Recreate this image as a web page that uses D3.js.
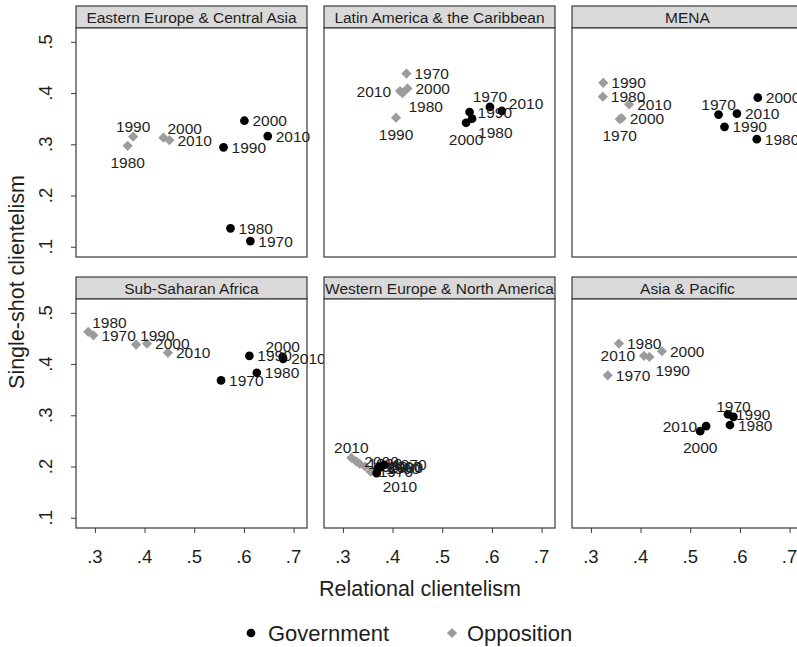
<!DOCTYPE html>
<html>
<head>
<meta charset="utf-8">
<script src="https://cdn.jsdelivr.net/npm/d3@7/dist/d3.min.js"></script>
<style>
  html, body { margin: 0; padding: 0; background: #fff; }
  svg { display: block; font-family: "Liberation Sans", Arial, sans-serif; }
</style>
</head>
<body>
<svg id="chart" width="797" height="647"></svg>
<script>
// ---------------- DATA ----------------
const regions = [
  "Eastern Europe & Central Asia",
  "Latin America & the Caribbean",
  "MENA",
  "Sub-Saharan Africa",
  "Western Europe & North America",
  "Asia & Pacific"
];
const years = [1970, 1980, 1990, 2000, 2010];

// Government: relational (x) and single-shot (y), per region, per year
const govRelational = [
  [0.613, 0.573, 0.559, 0.601, 0.648],
  [0.596, 0.560, 0.555, 0.548, 0.620],
  [0.557, 0.634, 0.569, 0.636, 0.594],
  [0.554, 0.626, 0.611, 0.678, 0.679],
  [0.383, 0.376, 0.370, 0.374, 0.368],
  [0.587, 0.580, 0.576, 0.520, 0.532]
];
const govSingleShot = [
  [0.111, 0.136, 0.294, 0.346, 0.316],
  [0.373, 0.350, 0.363, 0.342, 0.365],
  [0.358, 0.310, 0.334, 0.391, 0.360],
  [0.368, 0.383, 0.416, 0.414, 0.410],
  [0.203, 0.199, 0.196, 0.200, 0.187],
  [0.297, 0.281, 0.302, 0.269, 0.279]
];
// Opposition
const oppRelational = [
  [null, 0.366, 0.377, 0.438, 0.450],
  [0.428, 0.420, 0.407, 0.430, 0.415],
  [0.358, 0.324, 0.325, 0.362, 0.377],
  [0.297, 0.2865, 0.383, 0.405, 0.447],
  [0.356, 0.345, 0.334, 0.327, 0.317],
  [0.334, 0.3565, 0.418, 0.443, 0.407]
];
const oppSingleShot = [
  [null, 0.297, 0.315, 0.313, 0.308],
  [0.438, 0.400, 0.352, 0.409, 0.404],
  [0.349, 0.393, 0.420, 0.351, 0.378],
  [0.456, 0.463, 0.438, 0.440, 0.422],
  [0.190, 0.200, 0.205, 0.210, 0.217],
  [0.378, 0.440, 0.414, 0.425, 0.416]
];
// Marker-label clock positions (as in the original plot)
const govLabelClock = [
  [3, 3, 3, 3, 3],
  [12, 4, 3, 6, 2],
  [12, 3, 3, 3, 3],
  [3, 3, 3, 12, 3],
  [3, 3, 3, 3, 4],
  [12, 3, 3, 6, 9]
];
const oppLabelClock = [
  [3, 6, 12, 1, 3],
  [3, 4, 6, 3, 9],
  [6, 3, 3, 3, 3],
  [3, 1, 1, 3, 3],
  [3, 3, 3, 3, 12],
  [3, 3, 4, 3, 9]
];
const xTicks = [0.3, 0.4, 0.5, 0.6, 0.7];
const yTicks = [0.1, 0.2, 0.3, 0.4, 0.5];
const xTitle = "Relational clientelism";
const yTitle = "Single-shot clientelism";
const seriesNames = ["Government", "Opposition"];

// ---------------- LAYOUT ----------------
const svg = d3.select("#chart");
const colX = [76, 324, 572];
const rowY = [6, 277];
const panelW = 231, headerH = 22, plotH = 229;
const govColor = "#000000", oppColor = "#9c9c9c";
const headerFill = "#d9d9d9", borderColor = "#3a3a3a", textColor = "#1e1e1e";

const x = d3.scaleLinear().domain([0.262, 0.727]).range([0, panelW]);
const y = d3.scaleLinear().domain([0.080, 0.527]).range([plotH, 0]);

const circleSym = d3.symbol().type(d3.symbolCircle).size(60);
const diamondSym = d3.symbol().type(d3.symbolSquare).size(52);

const fmt = d => String(d).replace(/^0/, "");

function labelAttrs(clock) {
  switch (clock) {
    case 12: return {dx: 0, dy: -5, anchor: "middle"};
    case 1:  return {dx: 4, dy: -4, anchor: "start"};
    case 2:  return {dx: 7, dy: -2, anchor: "start"};
    case 3:  return {dx: 8, dy: 5.5, anchor: "start"};
    case 4:  return {dx: 6, dy: 19, anchor: "start"};
    case 6:  return {dx: 0, dy: 22, anchor: "middle"};
    case 9:  return {dx: -9, dy: 5.5, anchor: "end"};
    default: return {dx: 8, dy: 5.5, anchor: "start"};
  }
}

regions.forEach((name, i) => {
  const col = i % 3, row = Math.floor(i / 3);
  const g = svg.append("g").attr("transform", `translate(${colX[col]},${rowY[row]})`);

  // header
  g.append("rect").attr("x", 0).attr("y", 0).attr("width", panelW).attr("height", headerH)
    .attr("fill", headerFill).attr("stroke", borderColor).attr("stroke-width", 1.2);
  g.append("text").attr("x", panelW / 2).attr("y", headerH / 2 + 5.5)
    .attr("text-anchor", "middle").attr("font-size", 15.5).attr("fill", textColor).text(name);

  const p = g.append("g").attr("transform", `translate(0,${headerH})`);
  p.append("rect").attr("width", panelW).attr("height", plotH)
    .attr("fill", "#fff").attr("stroke", borderColor).attr("stroke-width", 1.2);

  // axes
  if (col === 0) {
    const ya = p.append("g").call(d3.axisLeft(y).tickValues(yTicks).tickSize(5).tickFormat(""));
    ya.select(".domain").remove();
    ya.selectAll("line").attr("stroke", borderColor);
    yTicks.forEach(t => {
      p.append("text")
        .attr("transform", `translate(${-76 + 52},${y(t)}) rotate(-90)`)
        .attr("text-anchor", "middle").attr("font-size", 18.5).attr("fill", textColor)
        .text(fmt(t));
    });
  }
  if (row === 1) {
    const xa = p.append("g").attr("transform", `translate(0,${plotH})`)
      .call(d3.axisBottom(x).tickValues(xTicks).tickSize(5).tickFormat(""));
    xa.select(".domain").remove();
    xa.selectAll("line").attr("stroke", borderColor);
    xTicks.forEach(t => {
      p.append("text").attr("x", x(t)).attr("y", plotH + 35)
        .attr("text-anchor", "middle").attr("font-size", 18.5).attr("fill", textColor)
        .text(fmt(t));
    });
  }

  const marks = p.append("g");
  const series = [
    {xs: oppRelational[i], ys: oppSingleShot[i], clocks: oppLabelClock[i], sym: diamondSym, color: oppColor, rot: 45},
    {xs: govRelational[i], ys: govSingleShot[i], clocks: govLabelClock[i], sym: circleSym, color: govColor, rot: 0}
  ];
  series.forEach(s => {
    const pts = years.map((yr, k) => ({yr, x: s.xs[k], y: s.ys[k], clock: s.clocks[k]}))
      .filter(d => d.x != null && d.y != null);
    marks.selectAll(null).data(pts).enter().append("path")
      .attr("d", s.sym)
      .attr("transform", d => `translate(${x(d.x)},${y(d.y)}) rotate(${s.rot})`)
      .attr("fill", s.color);
    marks.selectAll(null).data(pts).enter().append("text")
      .each(function (d) {
        const a = labelAttrs(d.clock);
        d3.select(this).attr("x", x(d.x) + a.dx).attr("y", y(d.y) + a.dy)
          .attr("text-anchor", a.anchor);
      })
      .attr("font-size", 15.5).attr("fill", textColor)
      .text(d => d.yr);
  });
});

// axis titles
svg.append("text").attr("x", 420).attr("y", 596).attr("text-anchor", "middle")
  .attr("font-size", 21.5).attr("fill", textColor).text(xTitle);
svg.append("text").attr("transform", "translate(24,282) rotate(-90)").attr("text-anchor", "middle")
  .attr("font-size", 21.5).attr("fill", textColor).text(yTitle);

// legend
const leg = svg.append("g");
const legendItems = [
  {name: seriesNames[0], sym: d3.symbol().type(d3.symbolCircle).size(60), color: govColor, rot: 0, mx: 251, tx: 268},
  {name: seriesNames[1], sym: d3.symbol().type(d3.symbolSquare).size(52), color: oppColor, rot: 45, mx: 452, tx: 467}
];
legendItems.forEach(it => {
  leg.append("path").attr("d", it.sym)
    .attr("transform", `translate(${it.mx},633) rotate(${it.rot})`).attr("fill", it.color);
  leg.append("text").attr("x", it.tx).attr("y", 641).attr("font-size", 22)
    .attr("fill", textColor).text(it.name);
});
</script>
</body>
</html>
